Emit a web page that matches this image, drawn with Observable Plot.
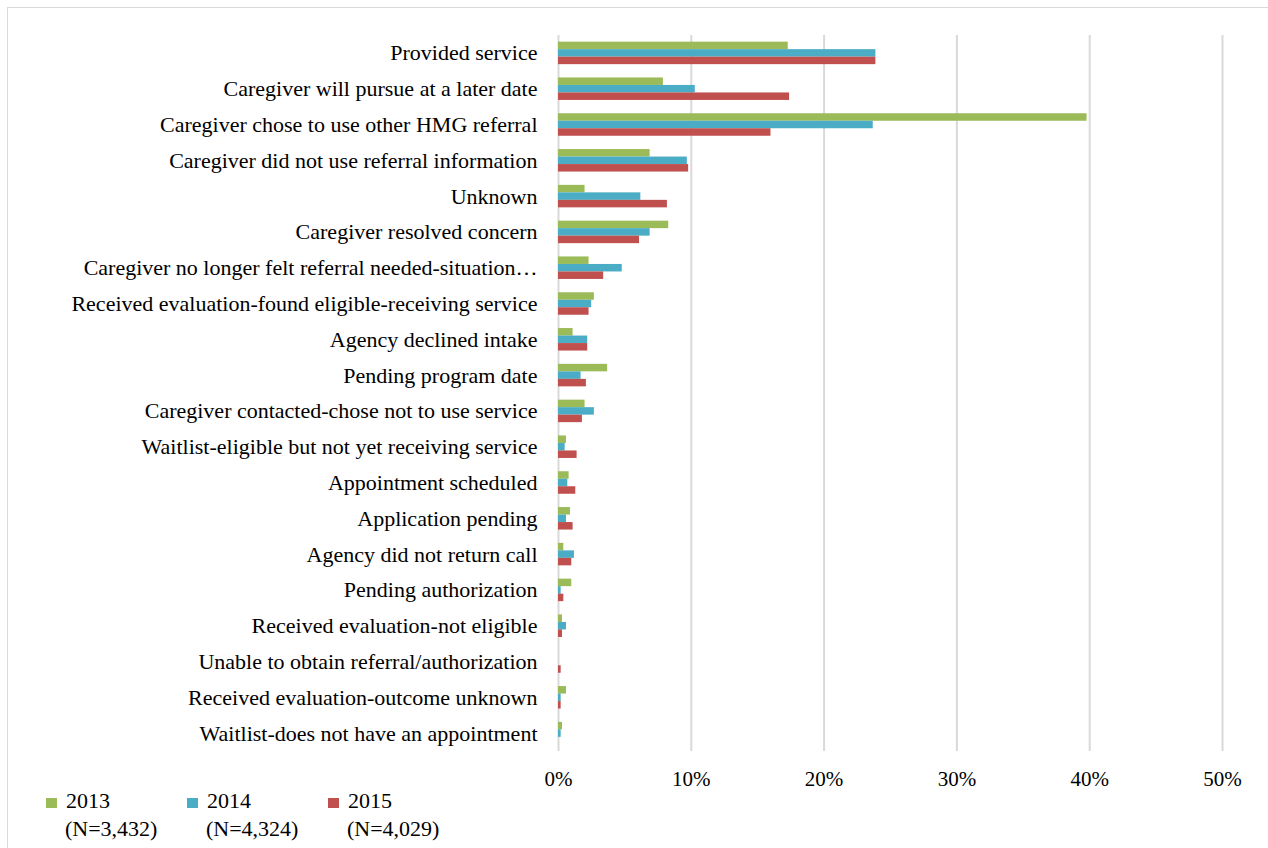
<!DOCTYPE html>
<html>
<head>
<meta charset="utf-8">
<script src="https://cdn.jsdelivr.net/npm/d3@7"></script>
<script src="https://cdn.jsdelivr.net/npm/@observablehq/plot@0.6"></script>
<style>
  html, body { margin: 0; padding: 0; background: #fff; }
  #wrap { position: relative; width: 1268px; height: 848px; overflow: hidden; font-family: "Liberation Serif", "Times New Roman", Times, "DejaVu Serif", serif; color: #000; }
  #chart { position: absolute; left: 0; top: 0; }
  #chart svg, #chart svg text { font-family: "Liberation Serif", "Times New Roman", Times, "DejaVu Serif", serif !important; }
  #frame { position: absolute; left: 7px; top: 7px; width: 1270px; height: 850px; border-top: 1px solid #d9d9d9; border-left: 1px solid #d9d9d9; pointer-events: none; }
  .lg-sq { position: absolute; width: 11px; height: 10px; }
  .lg-tx { position: absolute; font-size: 22px; line-height: 24px; white-space: nowrap; }
</style>
</head>
<body>
<div id="wrap">
  <div id="chart"></div>
  <div id="legend"></div>
  <div id="frame"></div>
</div>
<script>
const categories = [
  "Provided service",
  "Caregiver will pursue at a later date",
  "Caregiver chose to use other HMG referral",
  "Caregiver did not use referral information",
  "Unknown",
  "Caregiver resolved concern",
  "Caregiver no longer felt referral needed-situation…",
  "Received evaluation-found eligible-receiving service",
  "Agency declined intake",
  "Pending program date",
  "Caregiver contacted-chose not to use service",
  "Waitlist-eligible but not yet receiving service",
  "Appointment scheduled",
  "Application pending",
  "Agency did not return call",
  "Pending authorization",
  "Received evaluation-not eligible",
  "Unable to obtain referral/authorization",
  "Received evaluation-outcome unknown",
  "Waitlist-does not have an appointment"
];
const values2013 = [17.3, 7.9, 39.8, 6.9, 2.0, 8.3, 2.3, 2.7, 1.1, 3.7, 2.0, 0.6, 0.8, 0.9, 0.4, 1.0, 0.3, 0.0, 0.6, 0.3];
const values2014 = [23.9, 10.3, 23.7, 9.7, 6.2, 6.9, 4.8, 2.5, 2.2, 1.7, 2.7, 0.5, 0.7, 0.6, 1.2, 0.2, 0.6, 0.0, 0.2, 0.2];
const values2015 = [23.9, 17.4, 16.0, 9.8, 8.2, 6.1, 3.4, 2.3, 2.2, 2.1, 1.8, 1.4, 1.3, 1.1, 1.0, 0.4, 0.3, 0.2, 0.2, 0.0];
const years = ["2013", "2014", "2015"];
const sampleSizes = ["(N=3,432)", "(N=4,324)", "(N=4,029)"];
const xTicks = [0, 10, 20, 30, 40, 50];

const seriesColors = {"2013": "#9BBB59", "2014": "#4BACC6", "2015": "#C0504D"};

const rows = (vals, year) => categories.map((c, i) => ({category: c, value: vals[i], year}));
const d2013 = rows(values2013, "2013");
const d2014 = rows(values2014, "2014");
const d2015 = rows(values2015, "2015");

const W = 1268, H = 792, mTop = 35, mBottom = 41;
const step = (H - mTop - mBottom) / categories.length;
const barH = 7.5;
const half = step / 2;
const insets = [
  [half - 1.5 * barH, half + 0.5 * barH],
  [half - 0.5 * barH, half - 0.5 * barH],
  [half + 0.5 * barH, half - 1.5 * barH]
];

const fontStack = '"Liberation Serif", "Times New Roman", Times, "DejaVu Serif", serif';

const chart = Plot.plot({
  width: W,
  height: H,
  marginTop: mTop,
  marginBottom: mBottom,
  marginLeft: 558,
  marginRight: 46,
  style: {fontFamily: fontStack, fontSize: "22px", color: "#000", background: "transparent"},
  x: {domain: [0, 50]},
  y: {type: "band", domain: categories, padding: 0, round: false},
  marks: [
    Plot.gridX(xTicks, {stroke: "#d9d9d9", strokeOpacity: 1, strokeWidth: 2}),
    Plot.barX(d2013, {x: "value", y: "category", fill: seriesColors["2013"], insetTop: insets[0][0], insetBottom: insets[0][1]}),
    Plot.barX(d2014, {x: "value", y: "category", fill: seriesColors["2014"], insetTop: insets[1][0], insetBottom: insets[1][1]}),
    Plot.barX(d2015, {x: "value", y: "category", fill: seriesColors["2015"], insetTop: insets[2][0], insetBottom: insets[2][1]}),
    Plot.axisY({tickSize: 0, tickPadding: 21, fontSize: 22, label: null}),
    Plot.axisX(xTicks, {tickSize: 0, tickPadding: 20, fontSize: 21, tickFormat: d => d + "%", label: null})
  ]
});
document.getElementById("chart").appendChild(chart);

const legend = document.getElementById("legend");
legend.style.position = "absolute";
legend.style.left = "0px";
legend.style.top = H + "px";
const itemX = [46, 187, 328];
years.forEach((y, i) => {
  const sq = document.createElement("div");
  sq.className = "lg-sq";
  sq.style.left = itemX[i] + "px";
  sq.style.top = "6px";
  sq.style.background = seriesColors[y];
  legend.appendChild(sq);
  const t1 = document.createElement("div");
  t1.className = "lg-tx";
  t1.style.left = (itemX[i] + 20) + "px";
  t1.style.top = "-3px";
  t1.textContent = y;
  legend.appendChild(t1);
  const t2 = document.createElement("div");
  t2.className = "lg-tx";
  t2.style.left = (itemX[i] + 19) + "px";
  t2.style.top = "25px";
  t2.textContent = sampleSizes[i];
  legend.appendChild(t2);
});
</script>
</body>
</html>
